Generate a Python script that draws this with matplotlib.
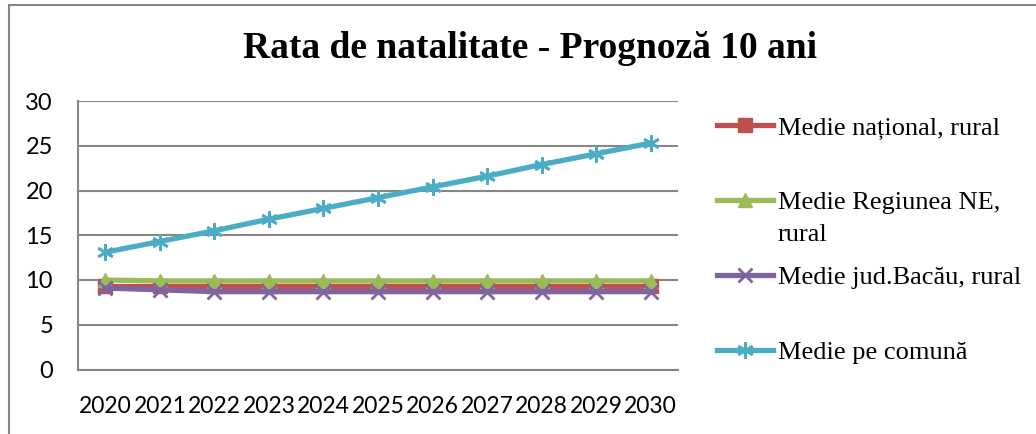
import matplotlib
matplotlib.use("Agg")
import matplotlib.pyplot as plt
from matplotlib.lines import Line2D
from matplotlib.patches import Rectangle

# Data
years = ["2020", "2021", "2022", "2023", "2024", "2025", "2026", "2027", "2028", "2029", "2030"]
nat_rural = [9.3, 9.3, 9.3, 9.3, 9.3, 9.3, 9.3, 9.3, 9.3, 9.3, 9.3]
ne_rural = [10.0, 9.9, 9.9, 9.9, 9.9, 9.9, 9.9, 9.9, 9.9, 9.9, 9.9]
bacau_rural = [9.1, 8.9, 8.7, 8.7, 8.7, 8.7, 8.7, 8.7, 8.7, 8.7, 8.7]
comuna = [13.1, 14.3, 15.5, 16.8, 18.0, 19.2, 20.4, 21.6, 22.9, 24.1, 25.3]

labels = ["Medie național, rural", "Medie Regiunea NE,",
          "Medie jud.Bacău, rural", "Medie pe comună"]
colors = ["#C0504D", "#9BBB59", "#8064A2", "#4BACC6"]
markers = ["s", "^", "x", (6, 2, 0)]
sizes = [10, 10, 10, 12]
series = [nat_rural, ne_rural, bacau_rural, comuna]

fig = plt.figure(figsize=(10.36, 4.34), dpi=100)
ax = fig.add_axes([78/1036, 1-369.5/434, 600/1036, 268.5/434])

x = list(range(len(years)))
for vals, col, mk, ms in zip(series, colors, markers, sizes):
    ax.plot(x, vals, color=col, lw=3.8, marker=mk, markersize=ms,
            markeredgewidth=2 if mk in ("x", (6, 2, 0)) else 1,
            markeredgecolor=col, markerfacecolor=col, zorder=3)

ax.set_xlim(-0.5, 10.5)
ax.set_ylim(0, 30)
ax.set_yticks(range(0, 31, 5))
ax.set_xticks(x)
ax.set_xticklabels(years)
ax.yaxis.grid(True, color="#868686", lw=1.5)
ax.set_axisbelow(True)
for s in ["top", "right"]:
    ax.spines[s].set_visible(False)
for s in ["left", "bottom"]:
    ax.spines[s].set_color("#868686")
    ax.spines[s].set_linewidth(1.5)
ax.tick_params(length=0, labelsize=17)
ax.tick_params(axis="x", labelsize=16.5)
ax.tick_params(axis="y", pad=18)
ax.tick_params(axis="x", pad=19)
for t in ax.get_xticklabels() + ax.get_yticklabels():
    t.set_family("Lato")

fig.text(0.512, 1-48/434, "Rata de natalitate - Prognoză 10 ani", ha="center", va="center",
         family="Liberation Serif", weight="bold", fontsize=27)

# legend entries, one per box so the spacing follows the picture
leg_y = [128, 202, 277, 352]
for lab, col, mk, ms, yy in zip(labels, colors, markers, sizes, leg_y):
    h = Line2D([], [], color=col, lw=3.8, marker=mk, markersize=ms,
               markeredgewidth=2 if mk in ("x", (6, 2, 0)) else 1,
               markeredgecolor=col, markerfacecolor=col)
    fig.legend([h], [lab], loc="center left",
               bbox_to_anchor=(717/1036, 1-yy/434),
               frameon=False, handlelength=2.12, handletextpad=0.2,
               borderaxespad=0, borderpad=0,
               prop={"family": "Liberation Serif", "size": 19})
fig.text(778/1036, 1-235/434, "rural", ha="left", va="center",
         family="Liberation Serif", fontsize=19)

fig.patches.append(Rectangle((9/1036, -0.1), 1.2, 1.1-5/434, transform=fig.transFigure,
                             fill=False, edgecolor="#868686", lw=1.5))

fig.savefig("out.png", dpi=100)
